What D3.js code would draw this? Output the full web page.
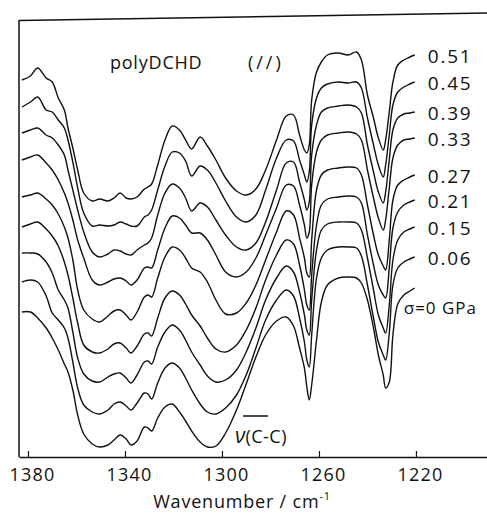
<!DOCTYPE html>
<html>
<head>
<meta charset="utf-8">
<script src="https://cdnjs.cloudflare.com/ajax/libs/d3/7.8.5/d3.min.js"></script>
<style>
  body { margin: 0; background: #fff; }
  svg { display: block; font-family: 'Open Sans', 'DejaVu Sans', sans-serif; }
</style>
</head>
<body>
<svg id="chart" width="487" height="515"></svg>
<script>
// wavenumber grid (cm-1) shared by all spectra
const wavenumbers = [1382.5, 1379, 1376, 1372.5, 1370, 1367.5, 1365, 1363.5, 1361.5, 1359.5,
  1357, 1353.5, 1350.5, 1347, 1344.5, 1342, 1339.5, 1337.5, 1335, 1332,
  1330.5, 1329, 1326.5, 1323.5, 1320.5, 1317.5, 1315, 1312.5, 1309, 1306,
  1302.5, 1298.5, 1294, 1290, 1286, 1282, 1277.5, 1273.5, 1270.5, 1268,
  1266, 1265, 1264, 1263, 1261, 1259, 1256.5, 1252, 1248, 1244.5,
  1242.5, 1240, 1237.5, 1235.5, 1233.5, 1232.5, 1231, 1229.5, 1227.5, 1225,
  1222.5, 1220.5];

// transmittance, arbitrary units (curves already offset as in the figure)
const s051 = [380, 384, 392, 382, 378, 362, 350, 332, 312, 290, 267, 259, 261, 259, 262, 267, 262, 261, 263, 271,
  273, 276, 295, 320, 334, 330, 320, 311, 323, 314, 300, 282, 269, 265, 271, 290, 320, 344, 345, 325,
  310, 307, 315, 360, 388, 398, 405, 407, 405, 408, 400, 365, 342, 322, 310, 320, 348, 378, 395, 400, 403, 405];
const s045 = [353, 358, 363, 350, 348, 340, 332, 320, 298, 272, 247, 234, 235, 234, 235, 238, 236, 234, 234, 243,
  245, 250, 270, 294, 308, 307, 299, 284, 294, 290, 277, 259, 243, 238, 245, 270, 302, 320, 319, 300,
  285, 278, 288, 335, 362, 372, 376, 378, 377, 378, 372, 342, 315, 295, 283, 295, 325, 355, 368, 373, 376, 378];
const s039 = [327, 330, 332, 325, 322, 315, 305, 290, 270, 250, 228, 208, 203, 206, 210, 209, 206, 205, 210, 215,
  217, 222, 245, 267, 276, 272, 262, 249, 257, 253, 240, 225, 213, 210, 217, 238, 270, 297, 298, 278,
  260, 250, 258, 305, 335, 348, 352, 354, 355, 353, 347, 315, 288, 268, 257, 268, 300, 330, 342, 346, 347, 348];
const s033 = [300, 303, 305, 297, 290, 280, 267, 257, 240, 220, 202, 180, 175, 178, 181, 182, 179, 175, 180, 192,
  193, 192, 210, 232, 244, 242, 235, 227, 227, 220, 205, 188, 183, 188, 202, 225, 252, 275, 274, 255,
  235, 222, 228, 275, 308, 320, 325, 327, 328, 326, 320, 290, 262, 242, 230, 240, 272, 302, 315, 320, 321, 322];
const s027 = [263, 265, 267, 261, 255, 246, 233, 222, 200, 170, 150, 141, 138, 144, 149, 150, 145, 140, 148, 163,
  165, 163, 182, 203, 213, 210, 202, 192, 188, 178, 160, 146, 147, 157, 175, 200, 228, 249, 245, 222,
  202, 187, 183, 220, 270, 285, 290, 292, 293, 292, 285, 255, 225, 205, 194, 190, 220, 260, 275, 280, 283, 285];
const s021 = [233, 236, 238, 231, 224, 214, 198, 185, 162, 137, 115, 108, 107, 111, 116, 117, 112, 107, 114, 126,
  127, 124, 142, 162, 169, 165, 156, 145, 134, 122, 111, 108, 115, 130, 152, 180, 205, 220, 216, 195,
  170, 155, 150, 185, 235, 255, 261, 263, 264, 263, 257, 225, 195, 175, 165, 162, 192, 232, 248, 255, 258, 260];
const s015 = [207, 207, 206, 198, 187, 170, 160, 152, 128, 102, 86, 79, 78, 83, 86, 87, 82, 77, 85, 98,
  99, 96, 113, 128, 135, 130, 120, 108, 95, 84, 78, 80, 90, 108, 132, 160, 182, 194, 188, 168,
  145, 130, 125, 160, 210, 230, 236, 238, 238, 237, 230, 202, 170, 145, 132, 127, 155, 200, 220, 228, 231, 233];
const s006 = [178, 180, 178, 164, 147, 140, 132, 122, 98, 72, 55, 48, 46, 50, 56, 58, 54, 50, 57, 67,
  66, 61, 77, 92, 97, 92, 82, 70, 56, 48, 46, 52, 65, 85, 112, 140, 160, 170, 164, 142,
  118, 100, 93, 125, 182, 202, 210, 213, 213, 212, 204, 175, 142, 118, 105, 100, 127, 175, 192, 198, 201, 203];
const s000 = [148, 148, 142, 132, 122, 110, 96, 88, 70, 45, 26, 16, 13, 15, 20, 25, 21, 15, 19, 33,
  32, 29, 42, 53, 56, 48, 39, 29, 18, 13, 14, 27, 50, 76, 103, 125, 139, 143, 134, 112,
  92, 73, 60, 75, 120, 158, 175, 182, 183, 182, 177, 160, 132, 105, 85, 72, 78, 125, 156, 165, 169, 172];

const pressures = ['0.51', '0.45', '0.39', '0.33', '0.27', '0.21', '0.15', '0.06', 'σ=0 GPa'];
const spectra = [s051, s045, s039, s033, s027, s021, s015, s006, s000];
const tickValues = [1380, 1340, 1300, 1260, 1220];

const svg = d3.select('#chart');

const scaleX = d3.scaleLinear()
  .domain([1383.7, 1190.7])
  .range([19, 487]);
const scaleY = d3.scaleLinear()
  .domain([0, 440])
  .range([460, 20]);

// frame: left and top edges
svg.append('line')
  .attr('x1', 19).attr('y1', 20).attr('x2', 19).attr('y2', 457)
  .attr('stroke', '#111').attr('stroke-width', 1.5);
svg.append('line')
  .attr('x1', 19).attr('y1', 20.5).attr('x2', 487).attr('y2', 13)
  .attr('stroke', '#111').attr('stroke-width', 1.5);

// bottom axis, ticks pointing inward
const axis = d3.axisBottom(scaleX)
  .tickValues(tickValues)
  .tickSizeInner(-6)
  .tickSizeOuter(0)
  .tickPadding(11)
  .tickFormat(d3.format('d'));

svg.append('g')
  .attr('transform', 'translate(0,457)')
  .call(axis)
  .attr('font-family', "'Open Sans', 'DejaVu Sans', sans-serif")
  .attr('font-size', 18)
  .call(g => g.select('.domain').attr('stroke', '#111').attr('stroke-width', 1.5))
  .call(g => g.selectAll('.tick line').attr('stroke', '#111').attr('stroke-width', 1.2))
  .call(g => g.selectAll('.tick text').attr('dx', 4).attr('letter-spacing', 1.2).attr('fill', '#111'));

// spectra
const line = d3.line()
  .x((d, i) => scaleX(wavenumbers[i]))
  .y(d => scaleY(d))
  .curve(d3.curveCatmullRom.alpha(0.5));

svg.append('g').classed('spectra', true)
  .selectAll('path').data(spectra)
  .enter().append('path')
  .attr('d', line)
  .attr('fill', 'none')
  .attr('stroke', '#111')
  .attr('stroke-width', 1.4)
  .attr('stroke-linejoin', 'round');

// pressure labels at the right end of each curve
const last = wavenumbers.length - 1;
svg.append('g').classed('labels', true)
  .selectAll('text').data(spectra)
  .enter().append('text')
  .attr('x', (d, i) => scaleX(wavenumbers[last]) + (i === 8 ? -11 : 13))
  .attr('y', (d, i) => scaleY(d[last]) + (i === 8 ? 26 : 8))
  .attr('font-size', (d, i) => i === 8 ? 17 : 19)
  .attr('letter-spacing', (d, i) => i === 8 ? 1 : 1.8)
  .attr('fill', '#111')
  .text((d, i) => pressures[i]);

// annotations
svg.append('text')
  .attr('x', scaleX(1346.2)).attr('y', scaleY(391))
  .attr('font-size', 18).attr('letter-spacing', 0.8).attr('fill', '#111')
  .text('polyDCHD');
svg.append('text')
  .attr('x', scaleX(1289.3)).attr('y', scaleY(391))
  .attr('font-size', 18).attr('letter-spacing', 3).attr('fill', '#111')
  .text('(//)');

svg.append('line')
  .attr('x1', scaleX(1291.3)).attr('x2', scaleX(1281))
  .attr('y1', scaleY(44)).attr('y2', scaleY(44))
  .attr('stroke', '#111').attr('stroke-width', 1.5);
svg.append('text')
  .attr('x', scaleX(1294.6)).attr('y', scaleY(17))
  .attr('font-size', 18).attr('fill', '#111')
  .call(t => t.append('tspan').attr('font-style', 'italic').attr('font-size', 21).text('ν'))
  .call(t => t.append('tspan').attr('letter-spacing', 0.5).text('(C-C)'));

// x axis title
svg.append('text')
  .attr('x', 242).attr('y', 508)
  .attr('text-anchor', 'middle')
  .attr('font-size', 18).attr('letter-spacing', 0.8).attr('fill', '#111')
  .call(t => t.append('tspan').text('Wavenumber / cm'))
  .call(t => t.append('tspan').attr('font-size', 11).attr('dy', -8).text('-1'));
</script>
</body>
</html>
